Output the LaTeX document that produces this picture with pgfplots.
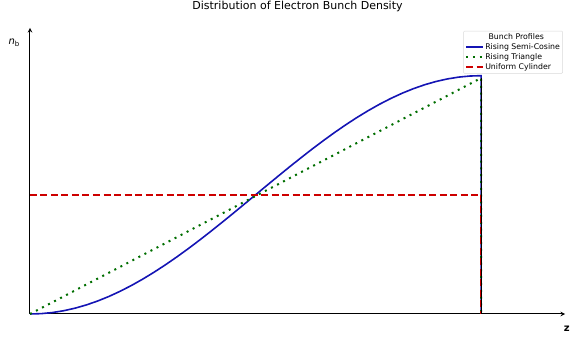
\documentclass[border=0pt]{standalone}
\usepackage{pgfplots}
\pgfplotsset{compat=1.18}
\usepackage{fontspec}
\setmainfont{DejaVu Sans}
\definecolor{cblue}{RGB}{20,20,180}
\definecolor{cgreen}{RGB}{0,110,0}
\definecolor{cred}{RGB}{205,0,0}
\begin{document}
\begin{tikzpicture}
\path[use as bounding box] (-30pt,-28pt) rectangle (540pt,314pt);
\begin{axis}[
  scale only axis, width=535pt, height=286pt,
  at={(0,0)}, anchor=south west,
  xmin=0, xmax=1.186, ymin=0, ymax=1.2,
  axis lines=left,
  axis line style={line width=1pt, -stealth},
  xtick=\empty, ytick=\empty,
  clip=false,
  title={Distribution of Electron Bunch Density},
  title style={font=\fontsize{11}{12}\selectfont, at={(0.5,1)}, anchor=base, yshift=12pt},
  legend cell align=left,
  legend style={at={(0.996,0.99)}, anchor=north east, font=\fontsize{7.8}{8}\selectfont,
    draw=black!15, rounded corners=1pt, inner sep=1.5pt,
    nodes={inner sep=1.2pt}},
]
\addplot[cblue, line width=1.6pt, forget plot] coordinates {
(0,0)(0.025,0.001541)(0.05,0.00616)(0.075,0.013815)(0.1,0.02447)(0.125,0.038060)
(0.15,0.05450)(0.175,0.073680)(0.2,0.09549)(0.225,0.119797)(0.25,0.14645)
(0.275,0.175276)(0.3,0.20611)(0.325,0.238751)(0.35,0.27300)(0.375,0.308658)
(0.4,0.34549)(0.425,0.383277)(0.45,0.42178)(0.475,0.460771)(0.5,0.5)
(0.525,0.539229)(0.55,0.57822)(0.575,0.616723)(0.6,0.65451)(0.625,0.691342)
(0.65,0.72700)(0.675,0.761249)(0.7,0.79389)(0.725,0.824724)(0.75,0.85355)
(0.775,0.880203)(0.8,0.90451)(0.825,0.926320)(0.85,0.94550)(0.875,0.961940)
(0.9,0.97553)(0.925,0.986185)(0.95,0.99384)(0.975,0.998459)(1,1)(1,0)};
\addplot[cgreen, line width=2pt, dash pattern=on 2pt off 4.8pt, forget plot] coordinates {(0,0)(1,0.99)(1,0)};
\addplot[cred, line width=1.6pt, dash pattern=on 7pt off 3.5pt, forget plot] coordinates {(0,0.5)(1,0.5)(1,0)};
\addplot[black, line width=1.2pt, forget plot] coordinates {(1,0)(1,0.99)};
\addlegendimage{legend image code/.code={}}
\addlegendentry{\hspace{-4pt}\makebox[70pt][c]{Bunch Profiles}}
\addlegendimage{legend image code/.code={\draw[draw=cblue, line width=1.6pt, solid] (0pt,0pt) -- (17pt,0pt);}}
\addlegendentry{Rising Semi-Cosine}
\addlegendimage{legend image code/.code={\draw[draw=cgreen, line width=2pt, dash pattern=on 2pt off 4.8pt] (0pt,0pt) -- (17pt,0pt);}}
\addlegendentry{Rising Triangle}
\addlegendimage{legend image code/.code={\draw[draw=cred, line width=1.6pt, dash pattern=on 7pt off 3.5pt] (0pt,0pt) -- (17pt,0pt);}}
\addlegendentry{Uniform Cylinder}
\node[font=\fontsize{10}{11}\selectfont, anchor=base] at (axis cs:-0.035,1.13) {\textit{n}\textsubscript{b}};
\node[font=\bfseries\fontsize{10}{11}\selectfont, anchor=base] at (axis cs:1.19,-0.075) {z};
\end{axis}
\end{tikzpicture}
\end{document}
